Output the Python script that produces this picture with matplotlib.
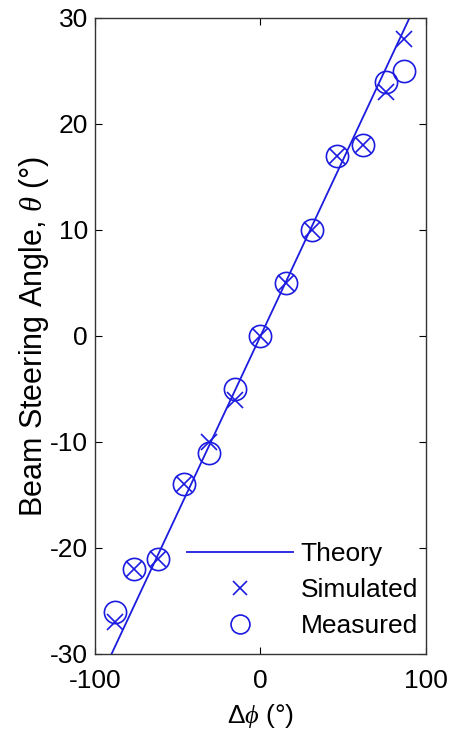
import matplotlib
matplotlib.use("Agg")
import matplotlib.pyplot as plt

plt.rcParams['font.family'] = ['Liberation Sans', 'DejaVu Sans']
plt.rcParams['mathtext.fontset'] = 'custom'
plt.rcParams['mathtext.it'] = 'Liberation Serif:italic'
plt.rcParams['mathtext.rm'] = 'Liberation Sans'
plt.rcParams['axes.unicode_minus'] = False

# Theory line (endpoints)
theory_dphi = [-90, 90]
theory_theta = [-30, 30]

# Simulated
sim_dphi = [-88, -76.5, -62, -46.5, -31, -15.5, 0, 15.5, 31, 46.5, 62, 76, 87]
sim_theta = [-27, -22, -21, -14, -10, -6, 0, 5, 10, 17, 18, 23, 28]

# Measured
meas_dphi = [-88, -76.5, -62, -46.5, -31, -15.5, 0, 15.5, 31, 46.5, 62, 76, 87]
meas_theta = [-26, -22, -21, -14, -11, -5, 0, 5, 10, 17, 18, 24, 25]

xticks = [-100, 0, 100]
yticks = [-30, -20, -10, 0, 10, 20, 30]

col = '#1c1ce0'
fs = 19

fig = plt.figure(figsize=(4.51, 7.34), dpi=100)
ax = fig.add_axes([0.2106, 0.109, 0.734, 0.8665])

ax.plot(theory_dphi, theory_theta, '-', color=col, lw=1.3, label='Theory')
ax.plot(sim_dphi, sim_theta, 'x', color=col, ms=12, mew=1.2, ls='none', label='Simulated')
ax.plot(meas_dphi, meas_theta, 'o', color=col, ms=16, mew=1.2, mfc='none', ls='none', label='Measured')

ax.set_xlim(-100, 100)
ax.set_ylim(-30, 30)
ax.set_xticks(xticks)
ax.set_yticks(yticks)
ax.tick_params(direction='in', top=True, right=True, labelsize=fs, length=5, width=0.8, pad=5)
ax.tick_params(axis='x', pad=11)
for s in ax.spines.values():
    s.set_linewidth(1.0)
    s.set_color('#333333')

ax.set_xlabel(r'$\Delta\mathit{\phi}$ (°)', fontsize=fs, labelpad=6)
ax.set_ylabel(r'Beam Steering Angle, $\mathit{\theta}$ (°)', fontsize=22, labelpad=-1)

leg = ax.legend(loc='lower right', bbox_to_anchor=(0.976, 0.025), frameon=False, fontsize=fs,
                handlelength=4.0, handletextpad=0.3, labelspacing=0.45, borderaxespad=0.0,
                borderpad=0.0, markerscale=0.85)

fig.savefig('out.png', dpi=100)
